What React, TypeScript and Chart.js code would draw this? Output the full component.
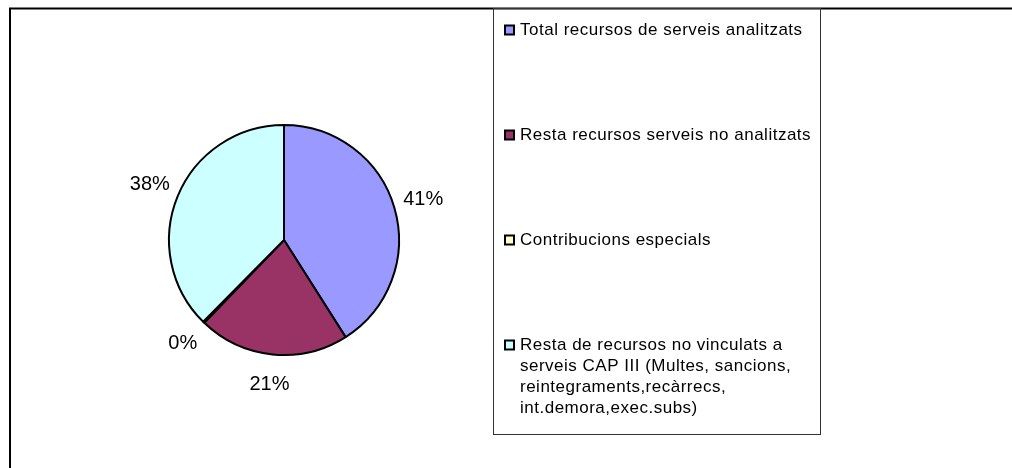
import React, { useEffect, useRef } from "react";
import { Chart, registerables } from "chart.js";

Chart.register(...registerables);

const categories: string[] = [
  "Total recursos de serveis analitzats",
  "Resta recursos serveis no analitzats",
  "Contribucions especials",
  "Resta de recursos no vinculats a serveis CAP III (Multes, sancions, reintegraments,recàrrecs, int.demora,exec.subs)",
];
const shares: number[] = [41.0, 21.2, 0.2, 37.6];
const sliceColors: string[] = ["#9999FF", "#993366", "#FFFFCC", "#CCFFFF"];

const FONT = '"Liberation Sans", Arial, Helvetica, sans-serif';

function wrapText(ctx: CanvasRenderingContext2D, text: string, maxW: number): string[] {
  const words = text.split(" ");
  const lines: string[] = [];
  let cur = "";
  for (const w of words) {
    const test = cur ? cur + " " + w : w;
    if (ctx.measureText(test).width > maxW && cur) {
      lines.push(cur);
      cur = w;
    } else {
      cur = test;
    }
  }
  if (cur) lines.push(cur);
  return lines;
}

const decorPlugin = {
  id: "decor",
  beforeDraw(chart: any) {
    const ctx: CanvasRenderingContext2D = chart.ctx;
    ctx.save();
    ctx.fillStyle = "#ffffff";
    ctx.fillRect(0, 0, chart.width, chart.height);
    ctx.strokeStyle = "#000000";
    ctx.lineWidth = 2;
    ctx.beginPath();
    ctx.moveTo(10, chart.height);
    ctx.lineTo(10, 8.5);
    ctx.lineTo(chart.width, 8.5);
    ctx.stroke();
    ctx.restore();
  },
  afterDraw(chart: any) {
    const ctx: CanvasRenderingContext2D = chart.ctx;
    const ds = chart.data.datasets[0];
    const values: number[] = ds.data;
    const total = values.reduce((a: number, b: number) => a + b, 0);
    const meta = chart.getDatasetMeta(0);
    ctx.save();
    ctx.fillStyle = "#000000";
    ctx.font = `20px ${FONT}`;
    ctx.textAlign = "center";
    ctx.textBaseline = "middle";
    meta.data.forEach((arc: any, i: number) => {
      const p = arc.getProps(["x", "y", "startAngle", "endAngle", "outerRadius"], true);
      const mid = (p.startAngle + p.endAngle) / 2;
      const r = p.outerRadius + 30;
      const pct = Math.round((values[i] / total) * 100);
      ctx.fillText(pct + "%", p.x + Math.cos(mid) * r, p.y + Math.sin(mid) * r);
    });
    const bx = 493.5, by = 8.5, bw = 327, bh = 426;
    ctx.strokeStyle = "#333333";
    ctx.lineWidth = 1;
    ctx.strokeRect(bx, by, bw, bh);
    ctx.font = `17px ${FONT}`;
    (ctx as any).letterSpacing = "0.5px";
    ctx.textAlign = "left";
    ctx.textBaseline = "middle";
    const labels: string[] = chart.data.labels;
    labels.forEach((lab: string, i: number) => {
      const y0 = 30 + i * 105;
      ctx.fillStyle = sliceColors[i];
      ctx.fillRect(505, y0 - 4.5, 9, 9);
      ctx.strokeStyle = "#000000";
      ctx.lineWidth = 2;
      ctx.strokeRect(505, y0 - 4.5, 9, 9);
      ctx.fillStyle = "#000000";
      const lines = wrapText(ctx, lab, 298);
      lines.forEach((ln, j) => {
        ctx.fillText(ln, 520, y0 + j * 21);
      });
    });
    ctx.restore();
  },
};

export default function App() {
  const ref = useRef<HTMLCanvasElement | null>(null);
  useEffect(() => {
    if (!ref.current) return;
    const chart = new Chart(ref.current, {
      type: "pie",
      data: {
        labels: categories,
        datasets: [
          {
            data: shares,
            backgroundColor: sliceColors,
            borderColor: "#000000",
            borderWidth: 2,
          },
        ],
      },
      options: {
        animation: false,
        responsive: false,
        layout: {
          padding: { left: 168, top: 124, right: 612, bottom: 112 },
        },
        plugins: {
          legend: { display: false },
          tooltip: { enabled: false },
        },
      },
      plugins: [decorPlugin],
    });
    return () => chart.destroy();
  }, []);
  return (
    <div style={{ position: "fixed", left: 0, top: 0, width: 1012, height: 468, background: "#fff" }}>
      <canvas ref={ref} width={1012} height={468} style={{ width: 1012, height: 468 }} />
    </div>
  );
}
